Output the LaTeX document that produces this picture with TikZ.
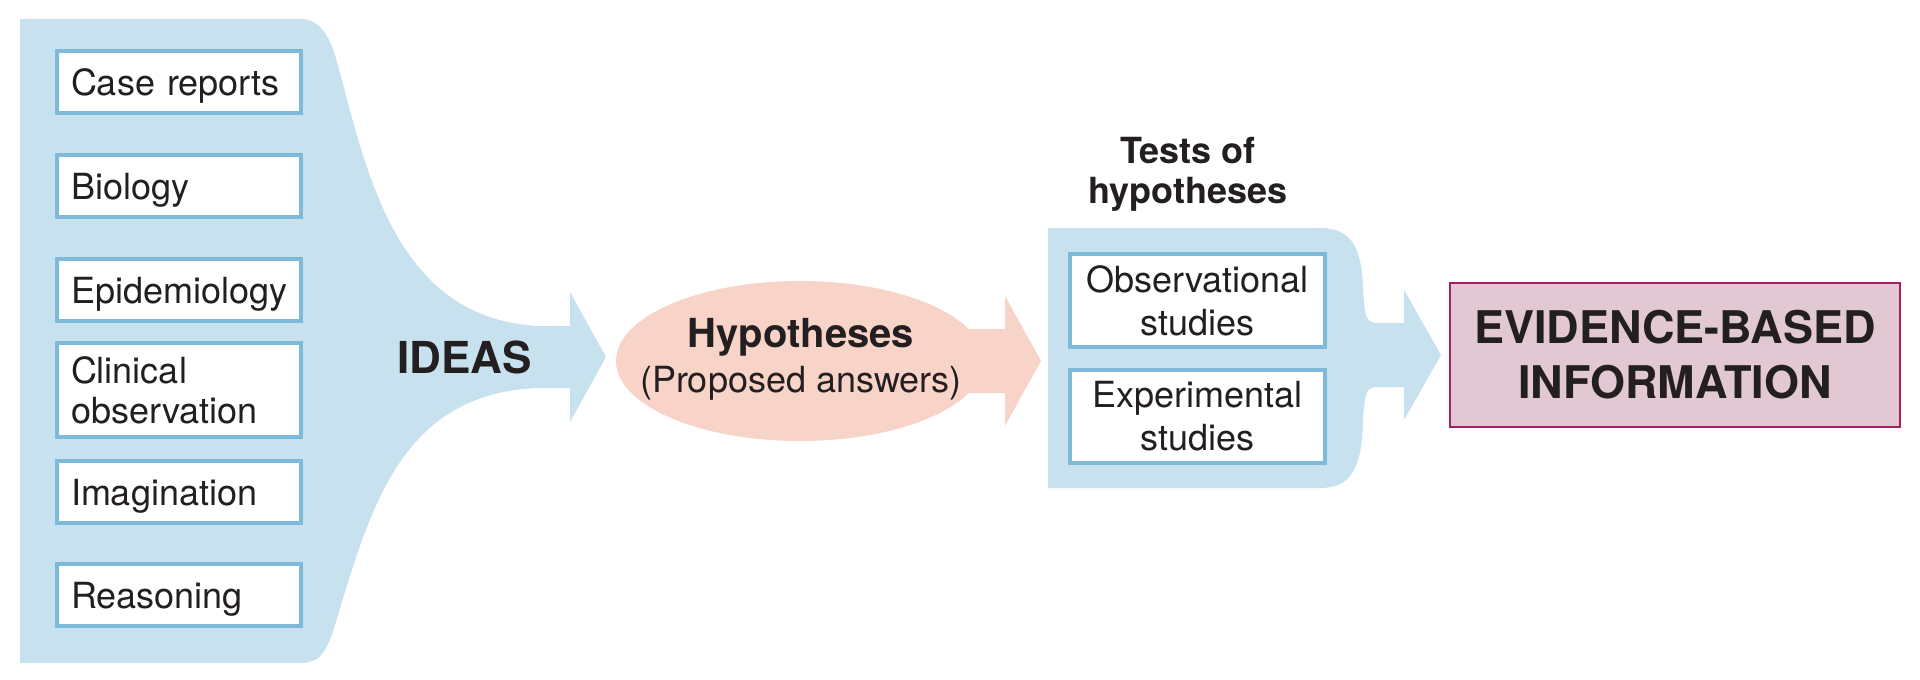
\documentclass[tikz,border=0pt]{standalone}
\usepackage{fontspec}
\setmainfont{TeX Gyre Heros}
\usepackage{xcolor}
\usepackage{tikz}
\usetikzlibrary{shapes.geometric, positioning}

\definecolor{ideablue}{HTML}{C8E1EE}
\definecolor{boxline}{HTML}{7DB9D8}
\definecolor{hypfill}{HTML}{F8D4C8}
\definecolor{evidfill}{HTML}{E2C8D2}
\definecolor{evidline}{HTML}{A51F63}
\definecolor{inkblack}{HTML}{231F20}

\begin{document}
\begin{tikzpicture}[x=1pt, y=-1pt,
    every node/.append style={text=inkblack},
    srcbox/.style={draw=boxline, line width=4pt, fill=white, minimum width=244pt,
        minimum height=62pt, text width=216pt, inner xsep=14pt, align=left,
        text height=27pt, text depth=0pt, font=\fontsize{36}{40}\selectfont},
    testbox/.style={draw=boxline, line width=4pt, fill=white, minimum width=255pt,
        minimum height=93pt, align=center, font=\fontsize{36}{43}\selectfont}]
    \useasboundingbox (0,0) rectangle (1920,680);

    % Khối xanh: nguồn ý tưởng
    \fill[ideablue] (20,19) -- (300,19) .. controls (318,19) and (328,33) .. (335,55)
        .. controls (365,160) and (390,320) .. (540,326) -- (570,326) -- (570,292)
        -- (606,357) -- (570,422) -- (570,388) -- (540,388)
        .. controls (400,392) and (370,510) .. (335,625)
        .. controls (326,655) and (318,663) .. (300,663) -- (20,663) -- cycle;

    % Khối xanh: kiểm định giả thuyết
    \fill[ideablue] (1048,228) -- (1320,228) .. controls (1350,228) and (1362,245) .. (1363,290)
        .. controls (1365,318) and (1366,323) .. (1378,323) -- (1404,323) -- (1404,290)
        -- (1441,355) -- (1404,420) -- (1404,387) -- (1378,387)
        .. controls (1366,387) and (1365,392) .. (1363,420)
        .. controls (1362,470) and (1350,488) .. (1320,488) -- (1048,488) -- cycle;

    % Giả thuyết: hình elip và mũi tên hồng
    \fill[hypfill] (800,361) ellipse [x radius=184, y radius=80];
    \fill[hypfill] (950,329) -- (1005,329) -- (1005,296) -- (1041,361) -- (1005,426)
        -- (1005,393) -- (950,393) -- cycle;

    % Các nguồn
    \node[srcbox] (case) at (179,82) {Case reports};
    \node[srcbox] (bio) at (179,185.5) {Biology};
    \node[srcbox] (epi) at (179,289.5) {Epidemiology};
    \node[srcbox, minimum height=94pt, text depth=40pt] (clin) at (179,390) {Clinical\\observation};
    \node[srcbox] (imag) at (179,492) {Imagination};
    \node[srcbox] (reas) at (179,594.5) {Reasoning};

    \node[font=\bfseries\fontsize{44}{50}\selectfont] (ideas) at (464.5,357.5) {IDEAS};

    \node[align=center, font=\fontsize{36}{45}\selectfont] (hyp) at (801,359)
        {{\bfseries\fontsize{40}{45}\selectfont Hypotheses}\\(Proposed answers)};

    % Kiểm định
    \node[align=center, font=\bfseries\fontsize{36}{40}\selectfont] (tests) at (1188,174)
        {Tests of\\hypotheses};
    \node[testbox] (obs) at (1197.5,300.5) {Observational\\studies};
    \node[testbox, below=19pt of obs] (exper) {Experimental\\studies};

    % Kết quả
    \node[draw=evidline, line width=2pt, fill=evidfill, minimum width=450pt,
        minimum height=144pt, align=center,
        font=\bfseries\fontsize{45}{55}\selectfont] (ebi) at (1675,355)
        {EVIDENCE-BASED\\INFORMATION};

\end{tikzpicture}
\end{document}
